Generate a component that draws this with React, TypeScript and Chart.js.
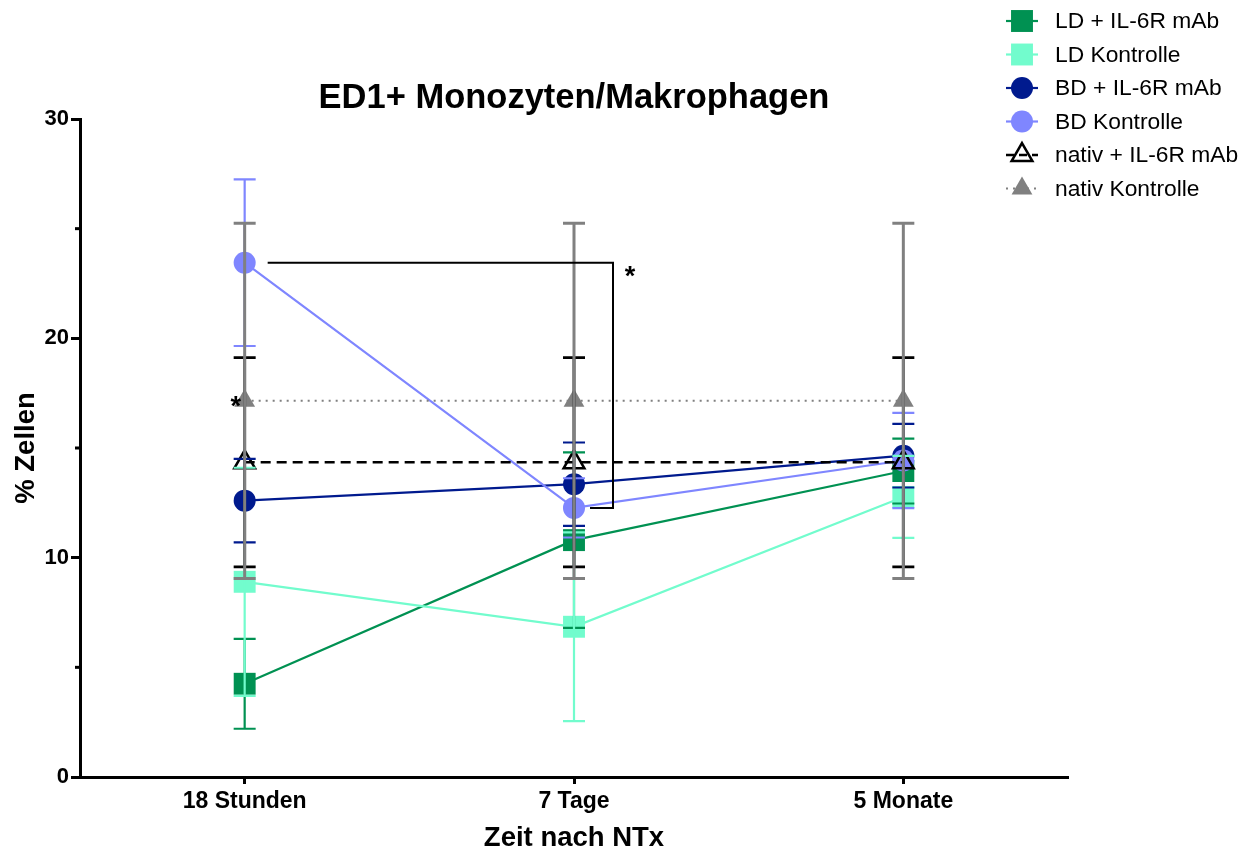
import React, { useEffect, useRef } from 'react';
import { Chart, registerables } from 'chart.js';

Chart.register(...registerables);

// ---------- data ----------
const categories = ['18 Stunden', '7 Tage', '5 Monate'];
const seriesNames = [
  'LD + IL-6R mAb',
  'LD Kontrolle',
  'BD + IL-6R mAb',
  'BD Kontrolle',
  'nativ + IL-6R mAb',
  'nativ Kontrolle',
];
const ldIl6rMean = [4.25, 10.8, 13.95];
const ldIl6rSd = [2.05, 4.0, 1.48];
const ldKontrolleMean = [8.9, 6.85, 12.77];
const ldKontrolleSd = [5.2, 4.3, 1.87];
const bdIl6rMean = [12.6, 13.35, 14.65];
const bdIl6rSd = [1.9, 1.9, 1.45];
const bdKontrolleMean = [23.45, 12.27, 14.43];
const bdKontrolleSd = [3.8, 1.35, 2.17];
const nativIl6rMean = [14.35, 14.35, 14.35];
const nativIl6rSd = [4.77, 4.77, 4.77];
const nativKontrolleMean = [17.15, 17.15, 17.15];
const nativKontrolleSd = [8.1, 8.1, 8.1];
const yMajorTicks = [0, 10, 20, 30];
const yMinorTicks = [5, 15, 25];

const means = [ldIl6rMean, ldKontrolleMean, bdIl6rMean, bdKontrolleMean, nativIl6rMean, nativKontrolleMean];
const sds = [ldIl6rSd, ldKontrolleSd, bdIl6rSd, bdKontrolleSd, nativIl6rSd, nativKontrolleSd];

// ---------- styles ----------
const FONT = "'Liberation Sans', Arial, Helvetica, sans-serif";
type Style = {
  color: string;
  shape: 'rect' | 'circle' | 'triangle';
  radius: number;
  filled: boolean;
  dash: number[];
  lineWidth: number;
  errWidth: number;
};
const styles: Style[] = [
  { color: '#009152', shape: 'rect', radius: 15.5, filled: true, dash: [], lineWidth: 2.2, errWidth: 2.2 },
  { color: '#72FCCD', shape: 'rect', radius: 15.5, filled: true, dash: [], lineWidth: 2.2, errWidth: 2.2 },
  { color: '#001A8E', shape: 'circle', radius: 11, filled: true, dash: [], lineWidth: 2.2, errWidth: 2.2 },
  { color: '#7F86FF', shape: 'circle', radius: 11, filled: true, dash: [], lineWidth: 2.2, errWidth: 2.2 },
  { color: '#000000', shape: 'triangle', radius: 12, filled: false, dash: [10, 6], lineWidth: 2.5, errWidth: 2.8 },
  { color: '#808080', shape: 'triangle', radius: 12, filled: true, dash: [2, 5], lineWidth: 2, errWidth: 3 },
];

function drawMarker(ctx: CanvasRenderingContext2D, s: Style, x: number, y: number) {
  ctx.save();
  ctx.beginPath();
  if (s.shape === 'rect') {
    const h = s.radius * Math.SQRT1_2;
    ctx.rect(x - h, y - h, 2 * h, 2 * h);
  } else if (s.shape === 'circle') {
    ctx.arc(x, y, s.radius, 0, Math.PI * 2);
  } else {
    const r = s.radius;
    ctx.moveTo(x, y - r);
    ctx.lineTo(x + r * Math.sin((2 * Math.PI) / 3), y - r * Math.cos((2 * Math.PI) / 3));
    ctx.lineTo(x + r * Math.sin((4 * Math.PI) / 3), y - r * Math.cos((4 * Math.PI) / 3));
    ctx.closePath();
  }
  if (s.filled) {
    ctx.fillStyle = s.color;
    ctx.fill();
  } else {
    ctx.lineWidth = 2.5;
    ctx.strokeStyle = s.color;
    ctx.stroke();
  }
  ctx.restore();
}

const errorBarPlugin = {
  id: 'errorBars',
  afterDatasetsDraw(chart: any) {
    const { ctx, scales } = chart;
    const x = scales.x;
    const y = scales.y;
    chart.data.datasets.forEach((ds: any, i: number) => {
      const st = styles[i];
      const err: number[] = ds.errors;
      ds.data.forEach((v: number, j: number) => {
        const px = x.getPixelForValue(j);
        const top = y.getPixelForValue(v + err[j]);
        const bot = y.getPixelForValue(v - err[j]);
        ctx.save();
        ctx.strokeStyle = st.color;
        ctx.lineWidth = st.errWidth;
        ctx.beginPath();
        ctx.moveTo(px, top);
        ctx.lineTo(px, bot);
        ctx.moveTo(px - 11, top);
        ctx.lineTo(px + 11, top);
        ctx.moveTo(px - 11, bot);
        ctx.lineTo(px + 11, bot);
        ctx.stroke();
        ctx.restore();
      });
    });
  },
};

const annotationPlugin = {
  id: 'annotations',
  afterDraw(chart: any) {
    const { ctx, scales } = chart;
    const x = scales.x;
    const y = scales.y;
    // minor y ticks
    ctx.save();
    ctx.strokeStyle = '#000';
    ctx.lineWidth = 3;
    yMinorTicks.forEach((v) => {
      const py = y.getPixelForValue(v);
      ctx.beginPath();
      ctx.moveTo(chart.chartArea.left - 5, py);
      ctx.lineTo(chart.chartArea.left, py);
      ctx.stroke();
    });
    ctx.restore();

    // significance bracket between BD Kontrolle 18 Stunden and 7 Tage
    const y1 = y.getPixelForValue(bdKontrolleMean[0]);
    const y2 = y.getPixelForValue(bdKontrolleMean[1]);
    const x0 = x.getPixelForValue(0) + 23;
    const xb = x.getPixelForValue(1) + 39;
    const x3 = x.getPixelForValue(1) + 16;
    ctx.save();
    ctx.strokeStyle = '#000';
    ctx.lineWidth = 2;
    ctx.beginPath();
    ctx.moveTo(x0, y1);
    ctx.lineTo(xb, y1);
    ctx.lineTo(xb, y2);
    ctx.lineTo(x3, y2);
    ctx.stroke();
    ctx.fillStyle = '#000';
    ctx.font = `bold 27px ${FONT}`;
    ctx.textAlign = 'center';
    ctx.textBaseline = 'middle';
    ctx.fillText('*', xb + 17, y1 + 15);
    ctx.fillText('*', x.getPixelForValue(0) - 9, y.getPixelForValue(nativKontrolleMean[0]) + 7);
    ctx.restore();

    // legend
    const lx = 1022;
    const ly0 = 21;
    const step = 33.5;
    seriesNames.forEach((name, i) => {
      const st = styles[i];
      const cy = ly0 + i * step;
      ctx.save();
      ctx.strokeStyle = st.color;
      ctx.lineWidth = st.lineWidth;
      ctx.setLineDash(i === 4 ? [8, 5] : st.dash);
      ctx.beginPath();
      ctx.moveTo(lx - 16, cy);
      ctx.lineTo(lx + 16, cy);
      ctx.stroke();
      ctx.restore();
      drawMarker(ctx, st, lx, cy);
      ctx.save();
      ctx.fillStyle = '#000';
      ctx.font = `22.8px ${FONT}`;
      ctx.textAlign = 'left';
      ctx.textBaseline = 'middle';
      ctx.fillText(name, 1055, cy + 1);
      ctx.restore();
    });
  },
};

export default function App() {
  const ref = useRef<HTMLCanvasElement | null>(null);

  useEffect(() => {
    document.body.style.margin = '0';
    const canvas = ref.current;
    if (!canvas) return;
    Chart.defaults.font.family = FONT;
    Chart.defaults.color = '#000';

    const datasets = seriesNames.map((name, i) => {
      const st = styles[i];
      return {
        label: name,
        data: means[i],
        errors: sds[i],
        borderColor: st.color,
        borderWidth: st.lineWidth,
        borderDash: st.dash,
        backgroundColor: st.color,
        pointStyle: st.shape,
        pointRadius: st.radius,
        pointHoverRadius: st.radius,
        pointBackgroundColor: st.filled ? st.color : 'rgba(0,0,0,0)',
        pointBorderColor: st.color,
        pointBorderWidth: st.filled ? 0 : 2.5,
        fill: false,
        tension: 0,
        order: 5 - i,
        clip: false,
      };
    });

    const chart = new Chart(canvas, {
      type: 'line',
      data: { labels: categories, datasets: datasets as any },
      options: {
        responsive: false,
        animation: false,
        layout: { padding: { left: 0, right: 182, top: 0, bottom: 0 } },
        plugins: {
          legend: { display: false },
          tooltip: { enabled: false },
          title: {
            display: true,
            text: 'ED1+ Monozyten/Makrophagen',
            fullSize: false,
            color: '#000',
            font: { size: 34.5, weight: 'bold', lineHeight: 1 },
            padding: { top: 81, bottom: 3.5 },
          },
        },
        scales: {
          x: {
            type: 'category',
            offset: true,
            afterFit: (s: any) => {
              s.height = 75;
            },
            border: { display: true, color: '#000', width: 3 },
            grid: {
              display: true,
              drawOnChartArea: false,
              drawTicks: true,
              tickLength: 7,
              tickWidth: 3,
              tickColor: '#000',
            },
            ticks: {
              color: '#000',
              padding: 4,
              font: { size: 23, weight: 'bold' },
              maxRotation: 0,
            },
            title: {
              display: true,
              text: 'Zeit nach NTx',
              color: '#000',
              font: { size: 27.5, weight: 'bold', lineHeight: 1 },
              padding: { top: 0, bottom: 0 },
            },
          },
          y: {
            type: 'linear',
            min: 0,
            max: 30,
            afterFit: (s: any) => {
              s.width = 80;
            },
            border: { display: true, color: '#000', width: 3 },
            grid: {
              display: true,
              drawOnChartArea: false,
              drawTicks: true,
              tickLength: 9,
              tickWidth: 3,
              tickColor: (c: any) => (yMajorTicks.includes(c.tick?.value) ? '#000' : 'rgba(0,0,0,0)'),
            },
            ticks: {
              stepSize: 5,
              color: '#000',
              padding: 2,
              font: { size: 22, weight: 'bold' },
              callback: (v: any) => (yMajorTicks.includes(Number(v)) ? String(v) : ''),
            },
            title: {
              display: true,
              text: '% Zellen',
              color: '#000',
              font: { size: 27.5, weight: 'bold', lineHeight: 1 },
              padding: { top: 13, bottom: 0 },
            },
          },
        },
      },
      plugins: [errorBarPlugin, annotationPlugin],
    });

    return () => chart.destroy();
  }, []);

  return (
    <div style={{ position: 'fixed', left: 0, top: 0, width: 1250, height: 852, background: '#fff' }}>
      <canvas ref={ref} width={1250} height={852} style={{ display: 'block', width: 1250, height: 852 }} />
    </div>
  );
}
